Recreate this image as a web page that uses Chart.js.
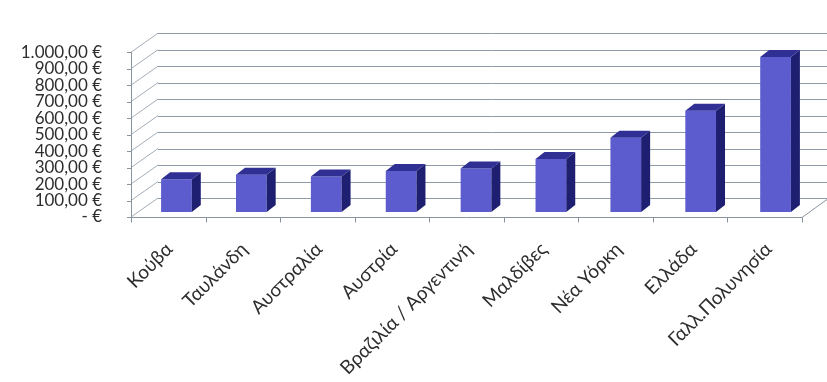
<!DOCTYPE html>
<html><head><meta charset="utf-8">
<script src="https://cdn.jsdelivr.net/npm/chart.js@4.4.1/dist/chart.umd.min.js"></script>
<style>html,body{margin:0;padding:0;background:#fff}#wrap{width:827px;height:382px}</style>
</head><body><div id="wrap"><canvas id="c" width="827" height="382"></canvas></div>
<script>
const categories = ['Κούβα','Ταυλάνδη','Αυστραλία','Αυστρία','Βραζιλία / Αργεντινή','Μαλδίβες','Νέα Υόρκη','Ελλάδα','Γαλλ.Πολυνησία'];
const prices = [198, 226, 215, 249, 264, 322, 450, 615, 941];
const yTickValues = [0,100,200,300,400,500,600,700,800,900,1000];
const yTickLabels = ['- €','100,00 €','200,00 €','300,00 €','400,00 €','500,00 €','600,00 €','700,00 €','800,00 €','900,00 €','1.000,00 €'];

const FRONT_DY = 5, BACK_DY = -14, DEPTH_DX = 27, FRONT_LX = -8, FRONT_RX = -11;
const BAR_DX = 9, BAR_DY = -7;

const frame3d = {
  id: 'frame3d',
  beforeDatasetsDraw(chart) {
    const ctx = chart.ctx, y = chart.scales.y, a = chart.chartArea;
    const fl = a.left + FRONT_LX, fr = a.right + FRONT_RX;
    ctx.save();
    ctx.lineWidth = 1;
    ctx.strokeStyle = '#8e9aa6';
    yTickValues.forEach(v => {
      const by = Math.round(y.getPixelForValue(v) + BACK_DY) + 0.5;
      ctx.beginPath(); ctx.moveTo(fl + DEPTH_DX, by); ctx.lineTo(827, by); ctx.stroke();
    });
    ctx.strokeStyle = '#a3adb7';
    yTickValues.forEach(v => {
      const fy = y.getPixelForValue(v) + FRONT_DY, by = y.getPixelForValue(v) + BACK_DY;
      ctx.beginPath(); ctx.moveTo(fl, fy); ctx.lineTo(fl + DEPTH_DX, by); ctx.stroke();
    });
    ctx.strokeStyle = '#8a949e';
    const ft = y.getPixelForValue(1000) + FRONT_DY, fb = Math.round(y.getPixelForValue(0) + FRONT_DY) + 0.5;
    ctx.beginPath(); ctx.moveTo(Math.round(fl) + 0.5, ft); ctx.lineTo(Math.round(fl) + 0.5, fb); ctx.stroke();
    yTickValues.forEach(v => {
      const fy = Math.round(y.getPixelForValue(v) + FRONT_DY) + 0.5;
      ctx.beginPath(); ctx.moveTo(fl - 4, fy); ctx.lineTo(fl, fy); ctx.stroke();
    });
    ctx.beginPath(); ctx.moveTo(fl, fb); ctx.lineTo(fr, fb); ctx.lineTo(fr + DEPTH_DX, y.getPixelForValue(0) + BACK_DY); ctx.stroke();
    const step = (fr - fl) / categories.length;
    for (let i = 0; i <= categories.length; i++) {
      const tx = Math.round(fl + i * step) + 0.5;
      ctx.beginPath(); ctx.moveTo(tx, fb); ctx.lineTo(tx, fb + 5); ctx.stroke();
    }
    ctx.restore();
  },
  afterDatasetsDraw(chart) {
    const ctx = chart.ctx;
    const meta = chart.getDatasetMeta(0);
    ctx.save();
    meta.data.forEach(bar => {
      const { x, y, base, width } = bar.getProps(['x','y','base','width'], true);
      const l = x - width / 2, r = x + width / 2;
      ctx.fillStyle = '#1f1f72';
      ctx.beginPath(); ctx.moveTo(r, y); ctx.lineTo(r + BAR_DX, y + BAR_DY); ctx.lineTo(r + BAR_DX, base + BAR_DY); ctx.lineTo(r, base); ctx.closePath(); ctx.fill();
      ctx.fillStyle = '#2f2f94';
      ctx.beginPath(); ctx.moveTo(l, y); ctx.lineTo(l + BAR_DX, y + BAR_DY); ctx.lineTo(r + BAR_DX, y + BAR_DY); ctx.lineTo(r, y); ctx.closePath(); ctx.fill();
    });
    ctx.restore();
  }
};

new Chart(document.getElementById('c'), {
  type: 'bar',
  data: {
    labels: categories,
    datasets: [{
      data: prices,
      backgroundColor: '#5c5ccf',
      borderWidth: 0,
      categoryPercentage: 1,
      barPercentage: 0.41
    }]
  },
  options: {
    responsive: false,
    animation: false,
    devicePixelRatio: 1,
    layout: { padding: { top: 30, right: 14, left: 0, bottom: 0 } },
    plugins: { legend: { display: false }, tooltip: { enabled: false } },
    scales: {
      x: {
        grid: { display: false, drawTicks: false },
        border: { display: false },
        ticks: {
          minRotation: 45, maxRotation: 45, autoSkip: false, padding: 26, labelOffset: -7,
          color: '#2e2e2e', font: { family: 'Lato', size: 19 }
        },
        afterFit(s) { s.height = 170; }
      },
      y: {
        min: 0, max: 1000,
        grid: { display: false, drawTicks: false },
        border: { display: false },
        ticks: {
          stepSize: 100, padding: 37, labelOffset: 5, autoSkip: false,
          color: '#2e2e2e', font: { family: 'Lato', size: 17 },
          callback: (v) => yTickLabels[yTickValues.indexOf(v)]
        },
        afterFit(s) { s.width = 139; }
      }
    }
  },
  plugins: [frame3d]
});
</script>
</body></html>
